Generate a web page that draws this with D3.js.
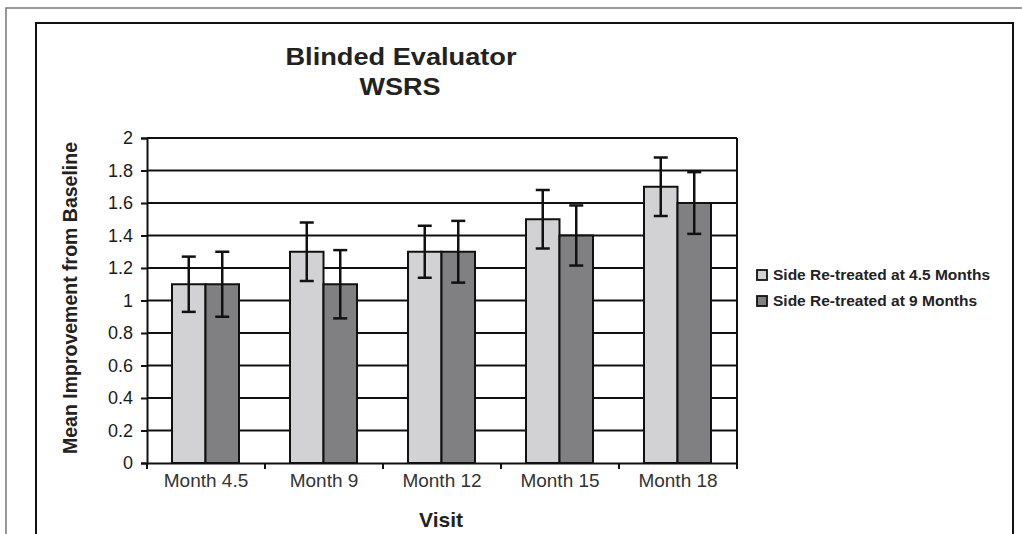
<!DOCTYPE html>
<html>
<head>
<meta charset="utf-8">
<script src="https://cdn.jsdelivr.net/npm/d3@7"></script>
<style>
  body { margin: 0; background: #fff; }
  svg { display: block; font-family: "Liberation Sans", Arial, sans-serif; }
</style>
</head>
<body>
<svg id="chart" width="1022" height="534"></svg>
<script>
// data
const visits = ['Month 4.5', 'Month 9', 'Month 12', 'Month 15', 'Month 18'];
const seriesNames = ['Side Re-treated at 4.5 Months', 'Side Re-treated at 9 Months'];
const side45 = [1.1, 1.3, 1.3, 1.5, 1.7];
const side9 = [1.1, 1.1, 1.3, 1.4, 1.6];
const err45 = [0.17, 0.18, 0.16, 0.18, 0.18];
const err9 = [0.2, 0.21, 0.19, 0.185, 0.19];
const yTicks = [0, 0.2, 0.4, 0.6, 0.8, 1, 1.2, 1.4, 1.6, 1.8, 2];
const fills = ['#d2d2d4', '#808082'];

const svg = d3.select('#chart');
const plot = { left: 147, right: 737, top: 138, bottom: 463 };

// frames
svg.append('rect').attr('x', 6).attr('y', 8).attr('width', 1040).attr('height', 560)
  .attr('fill', 'none').attr('stroke', '#777').attr('stroke-width', 1.5);
svg.append('rect').attr('x', 36).attr('y', 23).attr('width', 977).attr('height', 560)
  .attr('fill', 'none').attr('stroke', '#111').attr('stroke-width', 2);

const x = d3.scaleBand().domain(visits).range([plot.left, plot.right]);
const xInner = d3.scaleBand().domain([0, 1]).range([0, 67]);
const y = d3.scaleLinear().domain([0, 2]).range([plot.bottom, plot.top]);

// gridlines
svg.append('g').selectAll('line').data(yTicks.filter(d => d > 0)).enter()
  .append('line')
  .attr('x1', plot.left).attr('x2', plot.right)
  .attr('y1', d => y(d)).attr('y2', d => y(d))
  .attr('stroke', '#111').attr('stroke-width', 2);
svg.append('line').attr('x1', plot.right).attr('x2', plot.right)
  .attr('y1', plot.top).attr('y2', plot.bottom)
  .attr('stroke', '#111').attr('stroke-width', 2);

// bars
const rows = visits.map((v, i) => ({
  visit: v,
  vals: [
    { s: 0, v: side45[i], e: err45[i] },
    { s: 1, v: side9[i], e: err9[i] }
  ]
}));

const groups = svg.append('g').selectAll('g').data(rows).enter().append('g')
  .attr('transform', d => `translate(${x(d.visit) + x.bandwidth() / 2 - 34},0)`);

groups.selectAll('rect').data(d => d.vals).enter().append('rect')
  .attr('x', d => xInner(d.s))
  .attr('y', d => y(d.v))
  .attr('width', xInner.bandwidth())
  .attr('height', d => y(0) - y(d.v))
  .attr('fill', d => fills[d.s])
  .attr('stroke', '#111').attr('stroke-width', 2);

// error bars
const eb = groups.selectAll('g.err').data(d => d.vals).enter().append('g').attr('class', 'err');
eb.append('line')
  .attr('x1', d => xInner(d.s) + xInner.bandwidth() / 2)
  .attr('x2', d => xInner(d.s) + xInner.bandwidth() / 2)
  .attr('y1', d => y(d.v + d.e)).attr('y2', d => y(d.v - d.e))
  .attr('stroke', '#111').attr('stroke-width', 2.5);
[1, -1].forEach(sign => {
  eb.append('line')
    .attr('x1', d => xInner(d.s) + xInner.bandwidth() / 2 - 7)
    .attr('x2', d => xInner(d.s) + xInner.bandwidth() / 2 + 7)
    .attr('y1', d => y(d.v + sign * d.e)).attr('y2', d => y(d.v + sign * d.e))
    .attr('stroke', '#111').attr('stroke-width', 2.5);
});

// y axis
const yAxis = svg.append('g').attr('transform', `translate(${plot.left},0)`)
  .call(d3.axisLeft(y).tickValues(yTicks).tickSize(6).tickPadding(8).tickFormat(d3.format('')));
yAxis.select('.domain').attr('stroke', '#111').attr('stroke-width', 2);
yAxis.selectAll('.tick line').attr('stroke', '#111').attr('stroke-width', 2);
yAxis.selectAll('.tick text').attr('font-size', 18).attr('fill', '#1a1a1a')
  .attr('font-family', '"Liberation Sans", Arial, sans-serif');

// x axis
const xAxis = svg.append('g').attr('transform', `translate(0,${plot.bottom})`)
  .call(d3.axisBottom(x).tickSize(0));
xAxis.select('.domain').attr('stroke', '#111').attr('stroke-width', 2);
xAxis.selectAll('.tick text').attr('font-size', 19).attr('fill', '#333')
  .attr('y', 24).attr('dy', null)
  .attr('font-family', '"Liberation Sans", Arial, sans-serif');
svg.append('g').selectAll('line').data(visits.concat(['end'])).enter().append('line')
  .attr('x1', (d, i) => plot.left + i * x.bandwidth())
  .attr('x2', (d, i) => plot.left + i * x.bandwidth())
  .attr('y1', plot.bottom).attr('y2', plot.bottom + 6)
  .attr('stroke', '#111').attr('stroke-width', 2);

// titles
svg.append('text').attr('x', 401).attr('y', 65).attr('text-anchor', 'middle')
  .attr('font-size', 23).attr('font-weight', 'bold').attr('fill', '#222')
  .attr('textLength', 231).attr('lengthAdjust', 'spacingAndGlyphs').text('Blinded Evaluator');
svg.append('text').attr('x', 400).attr('y', 95).attr('text-anchor', 'middle')
  .attr('font-size', 23).attr('font-weight', 'bold').attr('fill', '#222')
  .attr('textLength', 81).attr('lengthAdjust', 'spacingAndGlyphs').text('WSRS');
svg.append('text').attr('x', 441).attr('y', 527).attr('text-anchor', 'middle')
  .attr('font-size', 21).attr('font-weight', 'bold').attr('fill', '#222').text('Visit');
svg.append('text').attr('transform', 'translate(77,298) rotate(-90)').attr('text-anchor', 'middle')
  .attr('font-size', 19.5).attr('font-weight', 'bold').attr('fill', '#222')
  .text('Mean Improvement from Baseline');

// legend
const legend = svg.append('g').selectAll('g').data(seriesNames).enter().append('g')
  .attr('transform', (d, i) => `translate(757,${270 + i * 26})`);
legend.append('rect').attr('width', 10).attr('height', 10)
  .attr('fill', (d, i) => fills[i]).attr('stroke', '#111').attr('stroke-width', 1.8);
legend.append('text').attr('x', 16).attr('y', 9.5).attr('font-size', 15.5).attr('font-weight', 'bold')
  .attr('fill', '#222').text(d => d);
</script>
</body>
</html>
